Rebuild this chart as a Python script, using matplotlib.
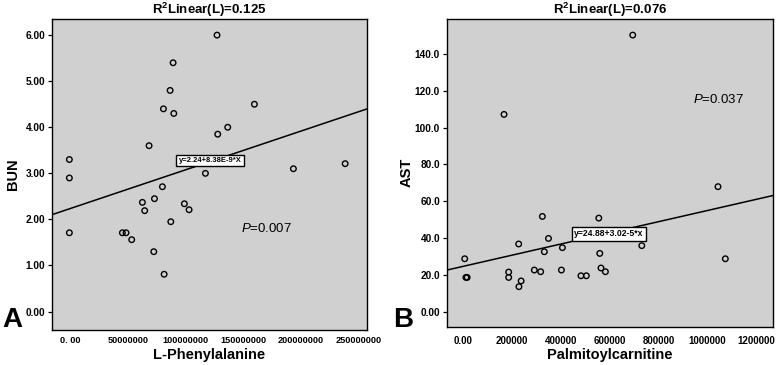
import numpy as np
import matplotlib
matplotlib.use('Agg')
import matplotlib.pyplot as plt

plt.rcParams['font.family'] = ['Liberation Sans', 'DejaVu Sans']
plt.rcParams['mathtext.fontset'] = 'custom'
plt.rcParams['mathtext.rm'] = 'Liberation Sans'
plt.rcParams['mathtext.it'] = 'Liberation Sans:italic'
plt.rcParams['mathtext.bf'] = 'Liberation Sans:bold'

# panel A: L-Phenylalanine vs BUN
phe_x = [127.2e6, 89.0e6, 86.4e6, 80.6e6, 89.6e6, 159.7e6, 136.5e6, 127.8e6, 68.1e6,
         -1.2e6, -1.2e6, -1.2e6, 117.1e6, 193.6e6, 238.6e6, 79.7e6, 72.8e6, 62.3e6,
         64.3e6, 98.8e6, 102.9e6, 87.0e6, 44.9e6, 48.1e6, 53.0e6, 72.2e6, 81.2e6]
bun_y = [6.00, 5.40, 4.80, 4.40, 4.30, 4.50, 4.00, 3.85, 3.60,
         3.30, 2.90, 1.71, 3.00, 3.10, 3.21, 2.71, 2.45, 2.37,
         2.19, 2.34, 2.21, 1.95, 1.71, 1.71, 1.56, 1.30, 0.81]
fit_a = (2.24, 8.38e-9)
xticks_a = [0, 50000000, 100000000, 150000000, 200000000, 250000000]
xlabels_a = ['0. 00', '50000000', '100000000', '150000000', '200000000', '250000000']
yticks_a = [0, 1, 2, 3, 4, 5, 6]

# panel B: Palmitoylcarnitine vs AST
pal_x = [695e3, 168e3, 1044e3, 1074e3, 7e3, 12e3, 17e3, 187e3, 187e3, 228e3,
         229e3, 238e3, 292e3, 318e3, 325e3, 333e3, 350e3, 407e3, 403e3, 483e3,
         505e3, 556e3, 560e3, 565e3, 583e3, 732e3]
ast_y = [150.0, 107.1, 68.0, 29.0, 29.0, 18.9, 18.9, 21.8, 18.9, 37.0,
         13.9, 17.0, 22.9, 22.0, 51.9, 32.8, 40.0, 35.0, 22.9, 19.8,
         19.8, 51.0, 31.9, 24.0, 22.0, 36.1]
fit_b = (24.88, 3.02e-5)
xticks_b = [0, 200000, 400000, 600000, 800000, 1000000, 1200000]
xlabels_b = ['0.00', '200000', '400000', '600000', '800000', '1000000', '1200000']
yticks_b = [0, 20, 40, 60, 80, 100, 120, 140]
ylabels_b = ['0.00', '20.0', '40.0', '60.0', '80.0', '100.0', '120.0', '140.0']

fig = plt.figure(figsize=(7.77, 3.65), dpi=100)
bg = '#d0d0d0'


def panel(rect, x, y, fit, xlim, ylim, title, xlabel, ylabel, xpad):
    ax = fig.add_axes(rect)
    ax.set_facecolor(bg)
    ax.scatter(x, y, s=16, facecolors='none', edgecolors='black', linewidths=1.0, zorder=3)
    lx = np.array(xlim)
    ax.plot(lx, fit[0] + fit[1] * lx, color='black', lw=1.1, zorder=2)
    ax.set_xlim(xlim)
    ax.set_ylim(ylim)
    ax.set_title(title, fontsize=9.5, fontweight='bold', pad=3)
    ax.set_xlabel(xlabel, fontsize=10.5, fontweight='bold')
    ax.set_ylabel(ylabel, fontsize=10.5, fontweight='bold')
    ax.tick_params(axis='y', length=3, width=0.9, pad=2)
    ax.tick_params(axis='x', length=0, pad=xpad)
    for s in ax.spines.values():
        s.set_linewidth(1.0)
    return ax


axA = panel([52 / 777, 35 / 365, 315 / 777, 311 / 365], phe_x, bun_y, fit_a,
            (-16.3e6, 257.6e6), (-0.40, 6.35), r'R$^\mathbf{2}$Linear(L)=0.125',
            'L-Phenylalanine', 'BUN', 4.5)
axA.set_xticks(xticks_a)
axA.set_xticklabels(xlabels_a, fontweight='bold', fontsize=6.6)
axA.set_yticks(yticks_a)
axA.set_yticklabels(['%.2f' % v for v in yticks_a], fontweight='bold', fontsize=7.3)
axA.yaxis.set_label_coords(-0.10, 0.5)
axA.xaxis.set_label_coords(0.5, -0.058)
axA.text(121e6, 3.28, 'y=2.24+8.38E-9*X', fontsize=5.5, fontweight='bold',
         ha='center', va='center',
         bbox=dict(boxstyle='square,pad=0.3', fc='white', ec='black', lw=1.0), zorder=4)
axA.text(147.8e6, 1.8, r'$\it{P}$=0.007', fontsize=9.5, va='center')

axB = panel([447 / 777, 38.3 / 365, 325.7 / 777, 307.7 / 365], pal_x, ast_y, fit_b,
            (-65.5e3, 1268e3), (-7.75, 158.7), r'R$^\mathbf{2}$Linear(L)=0.076',
            'Palmitoylcarnitine', 'AST', 6.5)
axB.set_xticks(xticks_b)
axB.set_xticklabels(xlabels_b, fontweight='bold', fontsize=7)
axB.set_yticks(yticks_b)
axB.set_yticklabels(ylabels_b, fontweight='bold', fontsize=7.3)
axB.yaxis.set_label_coords(-0.101, 0.5)
axB.xaxis.set_label_coords(0.5, -0.068)
axB.text(597e3, 42.4, 'y=24.88+3.02-5*x', fontsize=6.2, fontweight='bold',
         ha='center', va='center',
         bbox=dict(boxstyle='square,pad=0.3', fc='white', ec='black', lw=1.0), zorder=4)
axB.text(941e3, 115, r'$\it{P}$=0.037', fontsize=9.5, va='center')

fig.text(2 / 777, 1 - 327 / 365, 'A', fontsize=20, fontweight='bold', va='baseline')
fig.text(393 / 777, 1 - 327 / 365, 'B', fontsize=20, fontweight='bold', va='baseline')

fig.savefig('out.png', dpi=100)
